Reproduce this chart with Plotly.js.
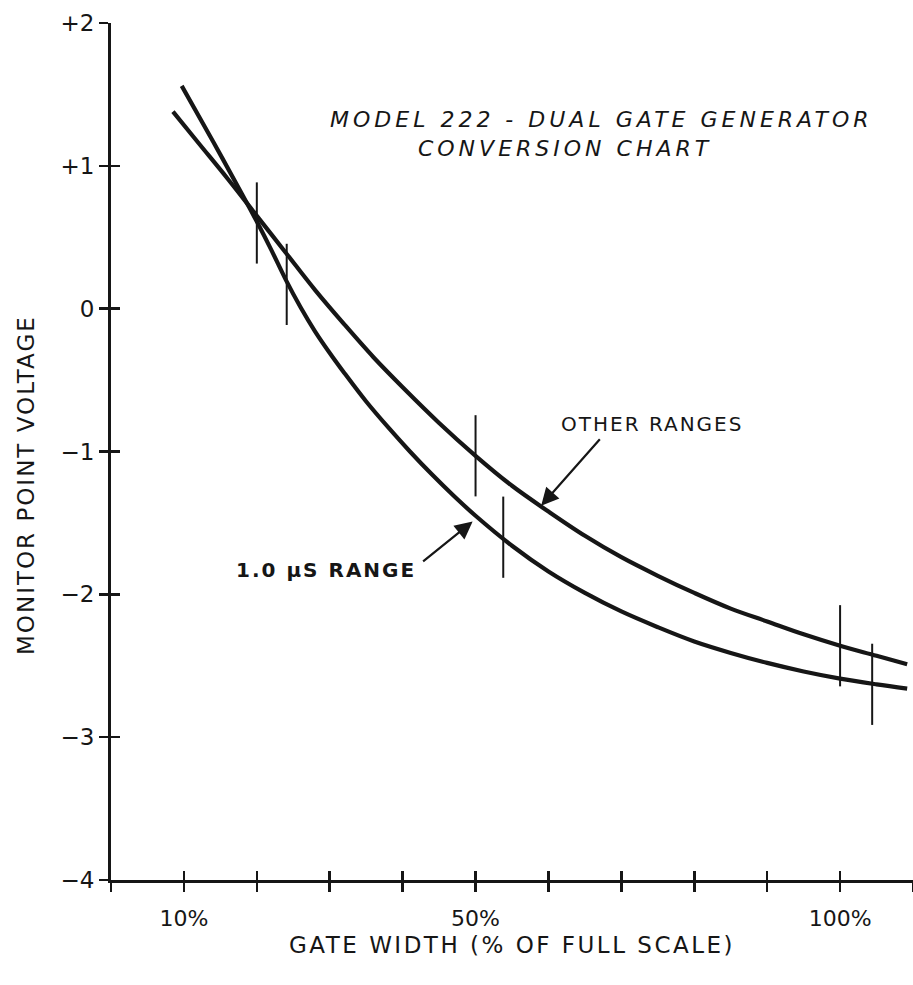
<!DOCTYPE html>
<html>
<head>
<meta charset="utf-8">
<script src="https://cdn.plot.ly/plotly-3.0.1.min.js"></script>
<style>
  html, body { margin: 0; padding: 0; background: #fff; }
  #chart { width: 913px; height: 985px; }
  .xtitle, .ytitle { letter-spacing: 2.5px; }
  .gtitle { letter-spacing: 4px; }
  .annotation-text { letter-spacing: 2px; }
</style>
</head>
<body>
<div id="chart"></div>
<script>
// ---- data ----
const xRange1us = [9.7, 14, 18, 20, 22, 24, 26, 28, 30, 32, 35, 38, 41, 44, 47, 50, 55, 60, 65, 70, 75, 80, 85, 90, 95, 100, 105, 109.2];
const yRange1us = [1.56, 1.17, 0.80, 0.61, 0.41, 0.20, 0.01, -0.16, -0.31, -0.45, -0.65, -0.83, -1.00, -1.16, -1.31, -1.45, -1.66, -1.84, -1.99, -2.12, -2.23, -2.33, -2.41, -2.48, -2.54, -2.59, -2.63, -2.66];

const xOther = [8.5, 12, 16, 20, 24, 28, 32, 36, 40, 45, 50, 55, 60, 65, 70, 75, 80, 85, 90, 95, 100, 105, 109.2];
const yOther = [1.38, 1.16, 0.91, 0.65, 0.39, 0.13, -0.11, -0.34, -0.55, -0.80, -1.03, -1.24, -1.42, -1.59, -1.74, -1.87, -1.99, -2.10, -2.19, -2.28, -2.36, -2.43, -2.49];

// calibration tick marks on the curves
const markX = [20, 24.1, 50, 53.8, 100, 104.4];
const markY = [0.60, 0.17, -1.03, -1.60, -2.36, -2.63];

const xTickVals = [0, 10, 20, 30, 40, 50, 60, 70, 80, 90, 100, 110];
const xTickText = ['', '10%', '', '', '', '50%', '', '', '', '', '100%', ''];
const yTickVals = [-4, -3, -2, -1, 0, 1, 2];
const yTickText = ['\u22124', '\u22123', '\u22122', '\u22121', '0', '+1', '+2'];

const titleLine1 = 'MODEL 222 - DUAL GATE GENERATOR';
const titleLine2 = 'CONVERSION CHART';
const xTitle = 'GATE WIDTH (% OF FULL SCALE)';
const yTitle = 'MONITOR POINT VOLTAGE';
const labelOther = 'OTHER RANGES';
const label1us = '1.0 \u03bcS RANGE';

// ---- styles ----
const INK = '#161616';
const FONT = 'DejaVu Sans, Liberation Sans, sans-serif';
const INDENT = '\u00a0'.repeat(8);

const traces = [
  {
    x: xRange1us, y: yRange1us, type: 'scatter', mode: 'lines', name: '1.0 \u03bcs range',
    line: { color: INK, width: 4.2, shape: 'spline', smoothing: 1 }, hoverinfo: 'skip'
  },
  {
    x: xOther, y: yOther, type: 'scatter', mode: 'lines', name: 'Other ranges',
    line: { color: INK, width: 4.2, shape: 'spline', smoothing: 1 }, hoverinfo: 'skip'
  },
  {
    x: markX, y: markY, type: 'scatter', mode: 'markers', name: 'marks',
    marker: { symbol: 'line-ns', size: 58, color: INK, line: { color: INK, width: 2 } },
    hoverinfo: 'skip'
  },
  // overlay axes (inside half of crossing ticks)
  {
    x: [0, 110], y: [-4, 2], xaxis: 'x2', yaxis: 'y2', type: 'scatter', mode: 'markers',
    marker: { opacity: 0 }, hoverinfo: 'skip', showlegend: false
  }
];

const axisCommon = {
  showgrid: false, zeroline: false, color: INK,
  tickcolor: INK, tickwidth: 2.5, ticklen: 9,
  tickfont: { family: FONT, size: 22, color: INK }
};

const layout = {
  width: 913, height: 985,
  paper_bgcolor: '#ffffff', plot_bgcolor: '#ffffff',
  showlegend: false,
  margin: { l: 111, r: 0, t: 23, b: 105 },
  font: { family: FONT, color: INK },
  title: {
    text: titleLine1 + '<br>' + INDENT + titleLine2,
    xref: 'container', x: 330 / 913, xanchor: 'left',
    yref: 'container', y: 1 - 127 / 985, yanchor: 'middle',
    font: { family: FONT, size: 22, style: 'italic', color: INK }
  },
  xaxis: Object.assign({}, axisCommon, {
    range: [0, 110], tickmode: 'array', tickvals: xTickVals, ticktext: xTickText,
    ticks: 'outside', showline: true, linecolor: INK, linewidth: 3,
    ticklabelstandoff: 8,
    title: { text: xTitle, font: { family: FONT, size: 23, color: INK }, standoff: 7 }
  }),
  yaxis: Object.assign({}, axisCommon, {
    range: [-4, 2], tickmode: 'array', tickvals: yTickVals, ticktext: yTickText,
    ticks: 'outside', showline: true, linecolor: INK, linewidth: 3,
    tickfont: { family: FONT, size: 23, color: INK },
    title: { text: '' }
  }),
  xaxis2: Object.assign({}, axisCommon, {
    range: [0, 110], tickmode: 'array', tickvals: xTickVals, overlaying: 'x', anchor: 'y2',
    ticks: 'inside', showline: false, showticklabels: false
  }),
  yaxis2: Object.assign({}, axisCommon, {
    range: [-4, 2], tickmode: 'array', tickvals: yTickVals, overlaying: 'y', anchor: 'x2',
    ticks: 'inside', showline: false, showticklabels: false
  }),
  annotations: [
    {
      text: yTitle, textangle: -90, xref: 'paper', yref: 'paper',
      x: (26 - 111) / 802, y: (880 - 485) / 857, xanchor: 'center', yanchor: 'middle',
      showarrow: false, font: { family: FONT, size: 23, color: INK }
    },
    {
      text: labelOther, x: 74.2, y: -0.81, xref: 'x', yref: 'y',
      showarrow: false, font: { family: FONT, size: 20, color: INK }
    },
    {
      text: label1us, x: 29.5, y: -1.83, xref: 'x', yref: 'y',
      showarrow: false, font: { family: FONT, size: 20, weight: 'bold', color: INK }
    },
    {
      text: '', x: 59.0, y: -1.38, xref: 'x', yref: 'y', ax: 60, ay: -68,
      showarrow: true, arrowhead: 2, arrowsize: 1.6, arrowwidth: 2.2, arrowcolor: INK
    },
    {
      text: '', x: 49.6, y: -1.49, xref: 'x', yref: 'y', ax: -51, ay: 41,
      showarrow: true, arrowhead: 2, arrowsize: 1.6, arrowwidth: 2.2, arrowcolor: INK
    }
  ]
};

Plotly.newPlot('chart', traces, layout, { displayModeBar: false, staticPlot: true });
</script>
</body>
</html>
